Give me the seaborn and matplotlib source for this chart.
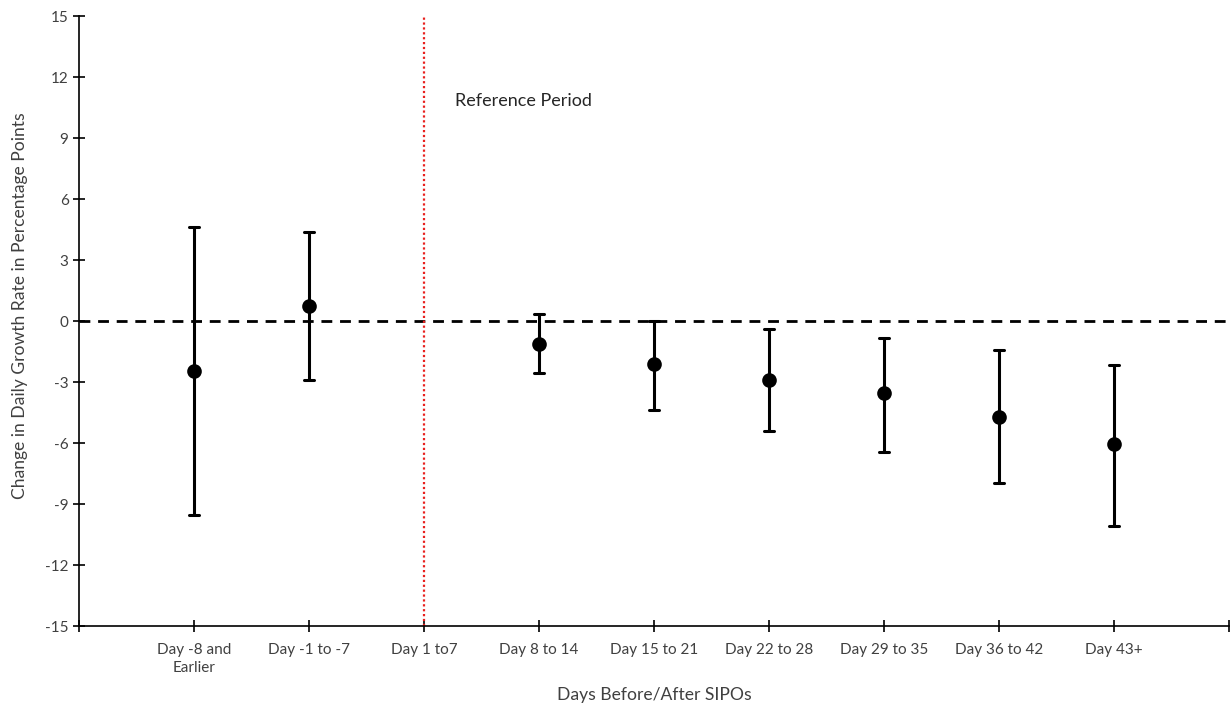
import numpy as np
import pandas as pd
import matplotlib
matplotlib.use("Agg")
import matplotlib.pyplot as plt
import seaborn as sns

categories = ["Day -8 and\nEarlier", "Day -1 to -7", "Day 1 to7", "Day 8 to 14",
              "Day 15 to 21", "Day 22 to 28", "Day 29 to 35", "Day 36 to 42", "Day 43+"]
estimate = [-2.46, 0.74, None, -1.12, -2.13, -2.89, -3.56, -4.71, -6.05]
lower = [-9.56, -2.92, None, -2.56, -4.39, -5.41, -6.43, -7.98, -10.08]
upper = [4.62, 4.36, None, 0.36, 0.0, -0.40, -0.82, -1.41, -2.16]
reference_category = "Day 1 to7"

sns.set_style("ticks")
plt.rcParams['font.family'] = ['Lato', 'DejaVu Sans']
plt.rcParams['axes.unicode_minus'] = False

rows = []
for c, e, lo, hi in zip(categories, estimate, lower, upper):
    if e is None:
        continue
    for v in (lo, e, hi):
        rows.append({"period": c, "value": v})
df = pd.DataFrame(rows)

fig = plt.figure(figsize=(12.32, 7.08), dpi=100)
ax = fig.add_axes([0.0641, 0.1158, 0.9335, 0.8616])

sns.pointplot(data=df, x="period", y="value", order=categories,
              estimator="median", errorbar=("pi", 100), color="black",
              linestyle="none", marker="o", markersize=8.5, capsize=0.09,
              err_kws={"linewidth": 2.2}, ax=ax)

ref_idx = categories.index(reference_category)
ax.axhline(0, color="black", linewidth=2, dashes=(3.9, 2.8), zorder=1)
ax.axvline(ref_idx, color="#e8201e", linewidth=1.6, linestyle=(0, (1, 1.2)), zorder=1)
ax.text(ref_idx + 0.27, 10.8, "Reference Period", fontsize=13, color="#262626",
        va="center", ha="left")

ax.set_xlim(-1, len(categories))
ax.set_ylim(-15, 15)
ax.set_yticks(np.arange(-15, 16, 3))
ax.set_xticks(np.arange(-1, len(categories) + 1))
ax.set_xticklabels([""] + categories + [""], linespacing=1.4)
ax.tick_params(axis="both", direction="inout", length=8, width=1.2,
               colors="black", labelsize=11, labelcolor="#404040")
ax.tick_params(axis="x", pad=8)
sns.despine(ax=ax)
for s in ("left", "bottom"):
    ax.spines[s].set_linewidth(1.2)
    ax.spines[s].set_color("black")

ax.set_xlabel("Days Before/After SIPOs", fontsize=12.6, color="#404040", va="center")
ax.xaxis.set_label_coords(0.5, -0.113)
ax.set_ylabel("Change in Daily Growth Rate in Percentage Points", fontsize=12.6,
              color="#404040", va="center")
ax.yaxis.set_label_coords(-0.051, 0.525)

fig.savefig("out.png", dpi=100)
